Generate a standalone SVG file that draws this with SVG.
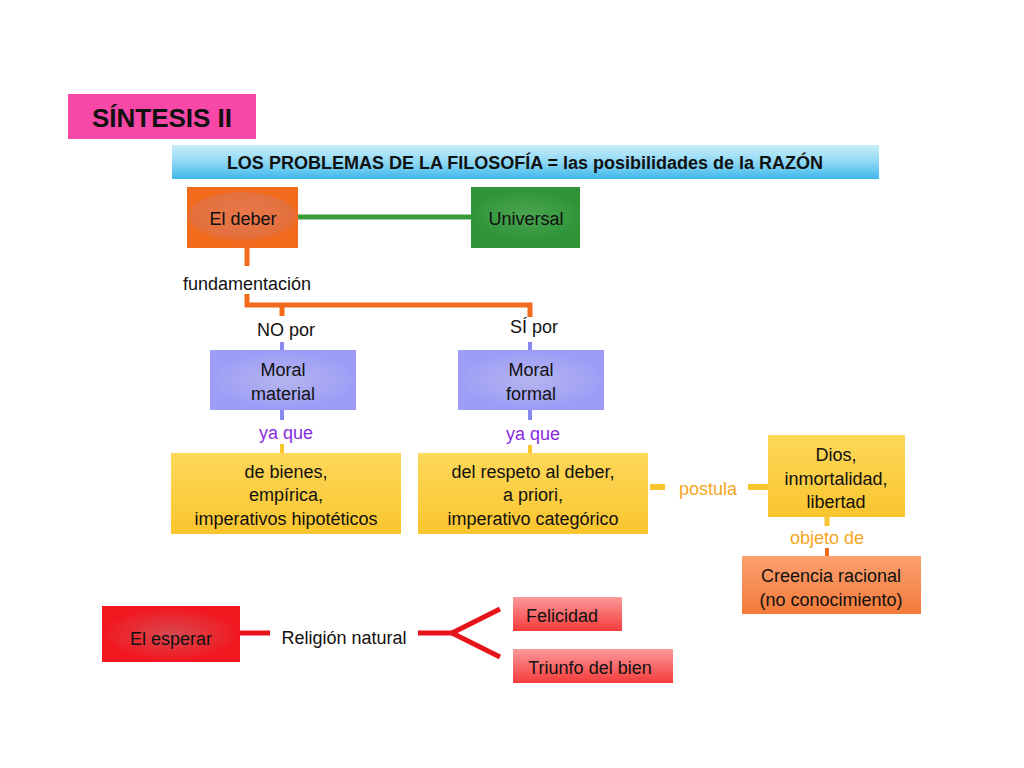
<svg xmlns="http://www.w3.org/2000/svg" width="1024" height="768" viewBox="0 0 1024 768">
<defs>
<radialGradient id="gOr" cx="0.5" cy="0.45" r="0.55"><stop offset="0" stop-color="#e8774a"/><stop offset="0.8" stop-color="#e4703f"/><stop offset="1" stop-color="#f26a1b"/></radialGradient>
<radialGradient id="gGr" cx="0.5" cy="0.45" r="0.55"><stop offset="0" stop-color="#4aa550"/><stop offset="1" stop-color="#2f9338"/></radialGradient>
<radialGradient id="gBl" cx="0.5" cy="0.5" r="0.55"><stop offset="0" stop-color="#b4b4ee"/><stop offset="1" stop-color="#9d9df7"/></radialGradient>
<radialGradient id="gRd" cx="0.5" cy="0.5" r="0.55"><stop offset="0" stop-color="#d84850"/><stop offset="1" stop-color="#f21820"/></radialGradient>
<linearGradient id="gYe" x1="0" y1="0" x2="0" y2="1"><stop offset="0" stop-color="#fdd85a"/><stop offset="1" stop-color="#f9c52e"/></linearGradient>
<linearGradient id="gPk" x1="0" y1="0" x2="0" y2="1"><stop offset="0" stop-color="#fb9a9a"/><stop offset="1" stop-color="#f43b3b"/></linearGradient>
<linearGradient id="gSal" x1="0" y1="0" x2="0" y2="1"><stop offset="0" stop-color="#fca070"/><stop offset="1" stop-color="#f37a3a"/></linearGradient>
<linearGradient id="gCy" x1="0" y1="0" x2="0" y2="1"><stop offset="0" stop-color="#c9eefa"/><stop offset="0.5" stop-color="#8ed8f5"/><stop offset="1" stop-color="#3fb8ea"/></linearGradient>
</defs>
<style>
text{font-family:"Liberation Sans",Arial,sans-serif;font-size:18px;fill:#111;text-anchor:middle}
.lbl{font-size:18px}
</style>
<rect width="1024" height="768" fill="#fff"/>
<g id="connectors" fill="none" stroke-linecap="butt">
<line x1="298" y1="217" x2="471" y2="217" stroke="#3a9a3a" stroke-width="5"/>
<line x1="247" y1="248" x2="247" y2="266" stroke="#f26a1b" stroke-width="5"/>
<polyline points="247,294 247,305 530,305 530,317" stroke="#f26a1b" stroke-width="5"/>
<line x1="282" y1="305" x2="282" y2="316" stroke="#f26a1b" stroke-width="5"/>
<line x1="282" y1="342" x2="282" y2="350" stroke="#8888ee" stroke-width="4"/>
<line x1="530" y1="342" x2="530" y2="350" stroke="#8888ee" stroke-width="4"/>
<line x1="282" y1="410" x2="282" y2="420" stroke="#8888ee" stroke-width="4"/>
<line x1="530" y1="410" x2="530" y2="420" stroke="#8888ee" stroke-width="4"/>
<line x1="282" y1="444" x2="282" y2="453" stroke="#f9c52e" stroke-width="4"/>
<line x1="530" y1="445" x2="530" y2="453" stroke="#f9c52e" stroke-width="4"/>
<line x1="650" y1="487" x2="665" y2="487" stroke="#f9c52e" stroke-width="6"/>
<line x1="748" y1="487" x2="768" y2="487" stroke="#f9c52e" stroke-width="6"/>
<line x1="827" y1="517" x2="827" y2="526" stroke="#f9c52e" stroke-width="5"/>
<line x1="827" y1="548" x2="827" y2="557" stroke="#f26a1b" stroke-width="4"/>
<line x1="240" y1="633" x2="270" y2="633" stroke="#e8141c" stroke-width="5"/>
<polyline points="418,633 452,633" stroke="#e8141c" stroke-width="5"/>
<polyline points="500,609 452,633 500,657" stroke="#e8141c" stroke-width="5"/>
</g>
<g id="title"><rect x="68" y="94" width="188" height="45" fill="#f748a8"/><text x="162" y="127" style="font-size:26px;font-weight:bold">SÍNTESIS II</text></g>
<g id="header"><rect x="172" y="145" width="707" height="34" fill="url(#gCy)"/><text x="525" y="169" style="font-weight:bold">LOS PROBLEMAS DE LA FILOSOFÍA = las posibilidades de la RAZÓN</text></g>
<g id="deber"><rect x="187" y="187" width="111" height="61" fill="#f26a1b"/><ellipse cx="242" cy="217" rx="55" ry="25" fill="url(#gOr)"/><text x="243" y="225">El deber</text></g>
<g id="universal"><rect x="471" y="187" width="109" height="61" fill="#2f9338"/><ellipse cx="526" cy="217" rx="54" ry="25" fill="url(#gGr)"/><text x="526" y="225">Universal</text></g>
<text x="247" y="290">fundamentación</text>
<text x="286" y="336">NO por</text>
<text x="534" y="333">SÍ por</text>
<g id="material"><rect x="210" y="350" width="146" height="60" fill="#9d9df7"/><ellipse cx="283" cy="380" rx="70" ry="26" fill="url(#gBl)"/><text x="283" y="376">Moral</text><text x="283" y="400">material</text></g>
<g id="formal"><rect x="458" y="350" width="146" height="60" fill="#9d9df7"/><ellipse cx="531" cy="380" rx="70" ry="26" fill="url(#gBl)"/><text x="531" y="376">Moral</text><text x="531" y="400">formal</text></g>
<text x="286" y="439" style="fill:#8a2be2">ya que</text>
<text x="533" y="440" style="fill:#8a2be2">ya que</text>
<g id="bienes"><rect x="171" y="453" width="230" height="81" fill="url(#gYe)"/><text x="286" y="478">de bienes,</text><text x="286" y="501">empírica,</text><text x="286" y="525">imperativos hipotéticos</text></g>
<g id="respeto"><rect x="418" y="453" width="230" height="81" fill="url(#gYe)"/><text x="533" y="478">del respeto al deber,</text><text x="533" y="501">a priori,</text><text x="533" y="525">imperativo categórico</text></g>
<text x="708" y="495" style="fill:#f5a623">postula</text>
<g id="dios"><rect x="768" y="435" width="137" height="82" fill="url(#gYe)"/><text x="836" y="461">Dios,</text><text x="836" y="485">inmortalidad,</text><text x="836" y="508">libertad</text></g>
<text x="827" y="544" style="fill:#f5a623">objeto de</text>
<g id="creencia"><rect x="742" y="556" width="179" height="58" fill="url(#gSal)"/><text x="831" y="582">Creencia racional</text><text x="831" y="606">(no conocimiento)</text></g>
<g id="esperar"><rect x="102" y="606" width="138" height="56" fill="#f21820"/><ellipse cx="171" cy="634" rx="64" ry="24" fill="url(#gRd)"/><text x="171" y="645">El esperar</text></g>
<text x="344" y="644">Religión natural</text>
<g id="felicidad"><rect x="513" y="597" width="109" height="34" fill="url(#gPk)"/><text x="562" y="622">Felicidad</text></g>
<g id="triunfo"><rect x="513" y="649" width="160" height="34" fill="url(#gPk)"/><text x="590" y="674">Triunfo del bien</text></g>
</svg>
